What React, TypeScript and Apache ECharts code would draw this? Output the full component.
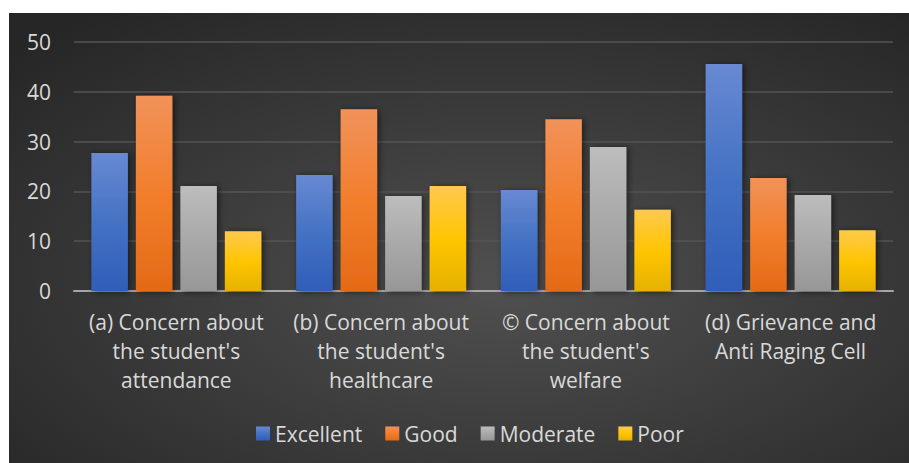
import React, { useEffect, useRef } from "react";
import * as echarts from "echarts";

const categories = [
  "(a) Concern about\nthe student's\nattendance",
  "(b) Concern about\nthe student's\nhealthcare",
  "© Concern about\nthe student's\nwelfare",
  "(d) Grievance and\nAnti Raging Cell",
];
const excellent = [27.7, 23.3, 20.3, 45.6];
const good = [39.2, 36.5, 34.5, 22.7];
const moderate = [21.1, 19.1, 28.9, 19.3];
const poor = [12.0, 21.1, 16.3, 12.2];
const yTicks = [0, 10, 20, 30, 40, 50];

const FONT = "'Open Sans', Lato, sans-serif";

export default function App() {
  const ref = useRef<HTMLDivElement>(null);
  useEffect(() => {
    if (!ref.current) return;
    const chart = echarts.init(ref.current, undefined, { renderer: "svg" });
    const mk = (name: string, data: number[], top: string, mid: string, bottom: string) => ({
      name,
      type: "bar",
      data,
      barGap: "22%",
      barCategoryGap: "17%",
      itemStyle: {
        color: new echarts.graphic.LinearGradient(0, 0, 0, 1, [
          { offset: 0, color: top },
          { offset: 0.5, color: mid },
          { offset: 1, color: bottom },
        ]),
        shadowBlur: 6,
        shadowColor: "rgba(0,0,0,0.55)",
        shadowOffsetX: 2,
        shadowOffsetY: 1,
      },
    });
    chart.setOption({
      animation: false,
      backgroundColor: {
        type: "radial",
        x: 0.55,
        y: 0.6,
        r: 0.75,
        colorStops: [
          { offset: 0, color: "#505050" },
          { offset: 1, color: "#262626" },
        ],
      },
      grid: { left: 65, right: 16, top: 29, height: 249 },
      legend: {
        left: 242,
        top: 405,
        itemWidth: 14,
        itemHeight: 14,
        itemGap: 23,
        icon: "rect",
        textStyle: { color: "#d9d9d9", fontSize: 21, fontFamily: FONT },
        data: ["Excellent", "Good", "Moderate", "Poor"],
      },
      xAxis: {
        type: "category",
        data: categories,
        axisLine: { lineStyle: { color: "#a6a6a6", width: 2 } },
        axisTick: { show: false },
        axisLabel: {
          color: "#d9d9d9",
          fontSize: 21,
          fontFamily: FONT,
          lineHeight: 29,
          margin: 16,
          interval: 0,
        },
      },
      yAxis: {
        type: "value",
        min: yTicks[0],
        max: yTicks[yTicks.length - 1],
        interval: 10,
        axisLine: { show: false },
        axisTick: { show: false },
        splitLine: { lineStyle: { color: "#555555", width: 1.5 } },
        axisLabel: {
          color: "#d9d9d9",
          fontSize: 21,
          fontFamily: FONT,
          margin: 23,
        },
      },
      series: [
        mk("Excellent", excellent, "#6889d2", "#4472c4", "#2f5eb8"),
        mk("Good", good, "#f1925a", "#f27e2c", "#e46a16"),
        mk("Moderate", moderate, "#bdbdbd", "#a9a9a9", "#979797"),
        mk("Poor", poor, "#ffc94d", "#ffc504", "#e6b200"),
      ],
    });
    return () => chart.dispose();
  }, []);
  return (
    <div style={{ position: "fixed", left: 0, top: 0, width: 909, height: 463, background: "#ffffff" }}>
      <div ref={ref} style={{ position: "absolute", left: 9, top: 13, width: 900, height: 450 }} />
    </div>
  );
}
